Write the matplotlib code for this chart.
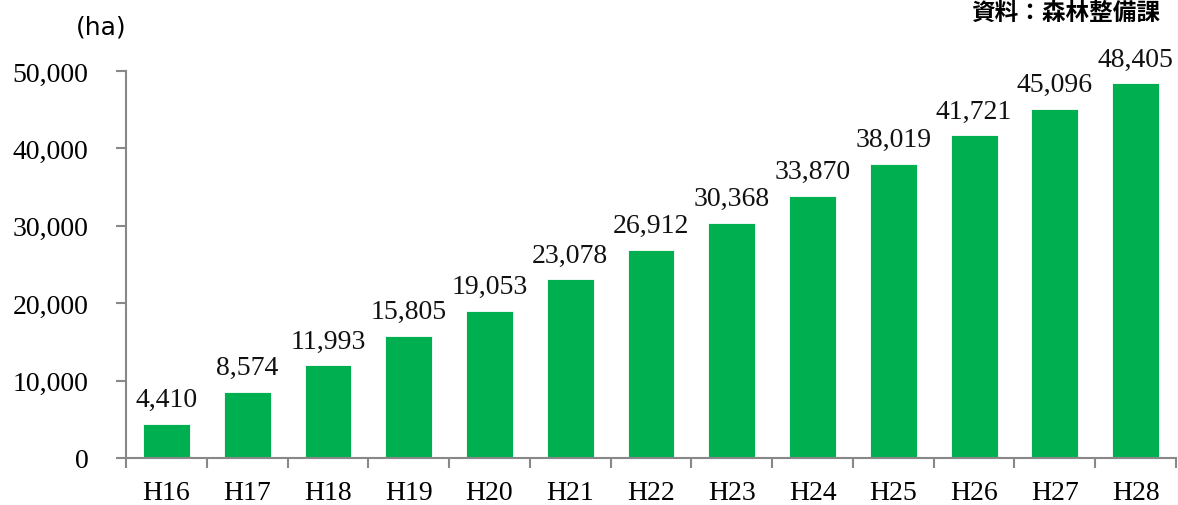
import matplotlib
matplotlib.use("Agg")
import matplotlib.pyplot as plt
import numpy as np

categories = ["H16", "H17", "H18", "H19", "H20", "H21", "H22", "H23", "H24", "H25", "H26", "H27", "H28"]
values = [4410, 8574, 11993, 15805, 19053, 23078, 26912, 30368, 33870, 38019, 41721, 45096, 48405]
yticks = [0, 10000, 20000, 30000, 40000, 50000]

serif = ["Liberation Serif", "DejaVu Serif"]
fig = plt.figure(figsize=(11.78, 5.06), dpi=100)
ax = fig.add_axes([126/1178, 1-459/506, 1050/1178, (459-72)/506])

x = np.arange(len(categories))
ax.bar(x, values, width=0.58, color="#00B050", edgecolor="white", linewidth=0.6)
for xi, v in zip(x, values):
    ax.text(xi, v + 1500, f"{v:,}", ha="center", va="bottom", fontsize=20, family=serif, color="#111")

ax.set_xlim(-0.5, len(categories) - 0.5)
ax.set_ylim(0, 50000)
ax.set_yticks(yticks)
ax.set_yticklabels([f"{t:,}" for t in yticks], family=serif, fontsize=20)
ax.set_xticks(x)
ax.set_xticklabels(categories, family=serif, fontsize=20)
ax.set_xticks(np.arange(len(categories) + 1) - 0.5, minor=True)
ax.tick_params(axis="x", which="major", length=0, pad=16)
ax.tick_params(axis="x", which="minor", length=7, color="#888888", width=1.5)
ax.tick_params(axis="y", length=7, color="#888888", width=1.5, pad=20)
for s in ["top", "right"]:
    ax.spines[s].set_visible(False)
for s in ["left", "bottom"]:
    ax.spines[s].set_color("#888888")
    ax.spines[s].set_linewidth(1.5)

fig.text(101/1178, 1-27/506, "(ha)", ha="center", va="center", fontsize=18, family=["DejaVu Sans"])
fig.text(1160/1178, 1-13/506, "資料：森林整備課", ha="right", va="center", fontsize=17,
         family=["Noto Sans CJK JP", "DejaVu Sans"], fontweight="bold")

fig.savefig("out.png", dpi=100)
